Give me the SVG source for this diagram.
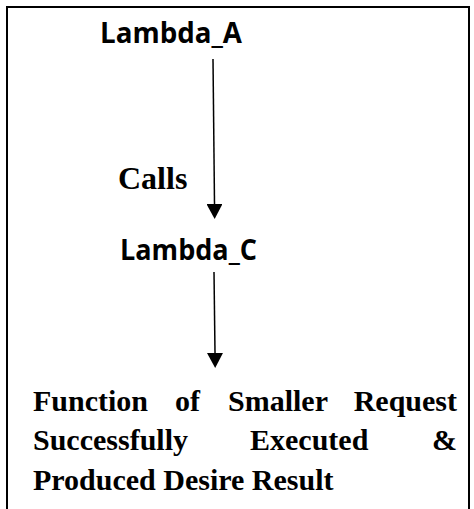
<svg xmlns="http://www.w3.org/2000/svg" width="474" height="509" viewBox="0 0 474 509">
  <style>
    .sans { font-family: "Open Sans", "Noto Sans", "Liberation Sans", sans-serif; font-weight: bold; font-size: 28px; fill: #000; }
    .serif { font-family: "Liberation Serif", "Times New Roman", serif; font-weight: bold; fill: #000; }
    .conn { stroke: #000; stroke-width: 1.5; fill: none; }
  </style>
  <defs>
    <marker id="arrow" viewBox="0 -8 15 16" refX="0" refY="0" markerWidth="15" markerHeight="16" markerUnits="userSpaceOnUse" orient="auto">
      <path d="M0,-8 L15,0 L0,8 Z" fill="#000"/>
    </marker>
  </defs>
  <rect x="0" y="0" width="474" height="509" fill="#fff"/>
  <rect x="7" y="7" width="462" height="530" fill="none" stroke="#000" stroke-width="2"/>

  <g id="lambda-a">
    <text class="sans" x="100" y="43" textLength="142" lengthAdjust="spacingAndGlyphs">Lambda_A</text>
  </g>
  <g id="lambda-c">
    <text class="sans" x="120" y="260" textLength="137" lengthAdjust="spacingAndGlyphs">Lambda_C</text>
  </g>
  <g id="result">
    <text class="serif" font-size="30" y="411">
      <tspan x="33">Function</tspan><tspan x="175">of</tspan><tspan x="228">Smaller</tspan><tspan x="457" text-anchor="end">Request</tspan>
    </text>
    <text class="serif" font-size="30" y="450">
      <tspan x="33">Successfully</tspan><tspan x="250">Executed</tspan><tspan x="457" text-anchor="end">&amp;</tspan>
    </text>
    <text class="serif" font-size="30" y="490" x="33">Produced Desire Result</text>
  </g>

  <g id="connectors">
    <path class="conn" d="M213,59 L214.5,204" marker-end="url(#arrow)"/>
    <path class="conn" d="M214,272 L215,353" marker-end="url(#arrow)"/>
    <text class="serif" font-size="32" x="118" y="189">Calls</text>
  </g>
</svg>
